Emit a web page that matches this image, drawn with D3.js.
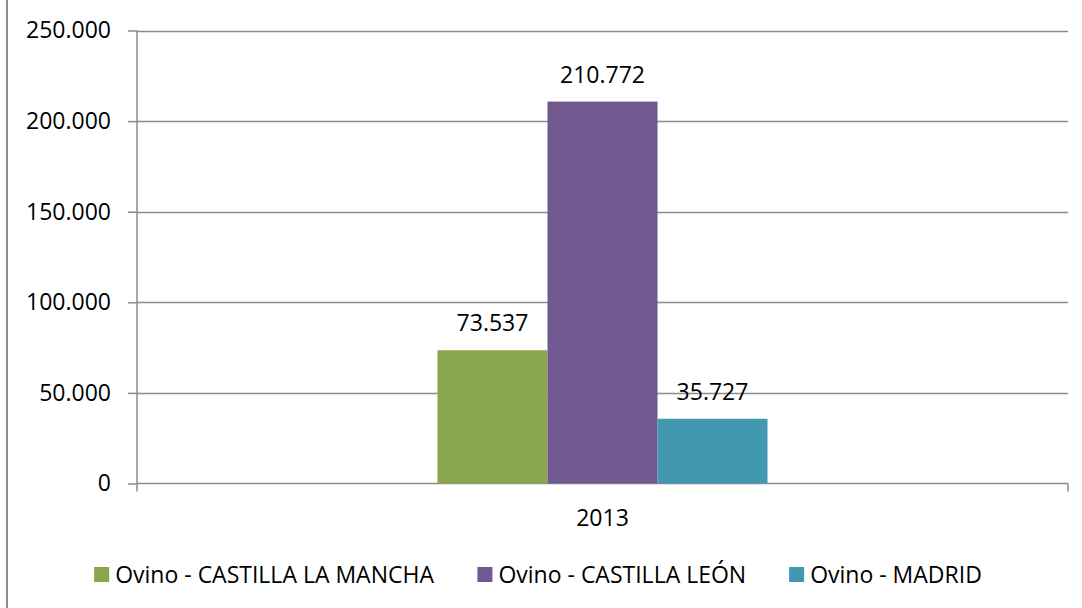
<!DOCTYPE html>
<html>
<head>
<meta charset="utf-8">
<script src="https://cdn.jsdelivr.net/npm/d3@7"></script>
<style>
  html, body { margin: 0; padding: 0; background: #fff; }
  svg { display: block; }
  text { font-family: "Open Sans", "Liberation Sans", sans-serif; fill: #000; }
</style>
</head>
<body>
<svg id="chart" width="1082" height="608"></svg>
<script>
// Ovino head count by region, 2013
const categories = ["2013"];
const seriesNames = ["Ovino - CASTILLA LA MANCHA", "Ovino - CASTILLA LEÓN", "Ovino - MADRID"];
const seriesValues = [73537, 210772, 35727];
const seriesColors = ["#8aa64d", "#71588f", "#4298b0"];
const yTicks = [0, 50000, 100000, 150000, 200000, 250000];

const svg = d3.select("#chart");
const W = 1082, H = 608;
const fontSize = 23;

// outer chart frame edge
svg.append("line")
  .attr("x1", 7).attr("x2", 7).attr("y1", 0).attr("y2", H)
  .attr("stroke", "#8c8c8c").attr("stroke-width", 2);

const plot = { left: 137, right: 1068, top: 30.5, bottom: 483.5 };

const y = d3.scaleLinear().domain([0, 250000]).range([plot.bottom, plot.top]);
const x0 = d3.scaleBand().domain(categories).range([plot.left, plot.right]).paddingInner(0).paddingOuter(0);
const groupW = 330;
const x1 = d3.scaleBand().domain(seriesNames).range([0, groupW]).padding(0);

const fmt = v => d3.format(",")(v).replace(/,/g, ".");

// horizontal gridlines
svg.append("g").selectAll("line").data(yTicks.filter(t => t > 0)).join("line")
  .attr("x1", plot.left).attr("x2", plot.right)
  .attr("y1", d => Math.round(y(d)) + 0.5).attr("y2", d => Math.round(y(d)) + 0.5)
  .attr("stroke", "#8c8c8c").attr("stroke-width", 1.5);

// y axis
const yAxis = d3.axisLeft(y).tickValues(yTicks).tickSize(9).tickPadding(17)
  .tickFormat(d => d === 0 ? "0" : fmt(d));
const gy = svg.append("g").attr("transform", `translate(${plot.left},0)`).call(yAxis);
gy.select(".domain").remove();
gy.selectAll(".tick line").attr("stroke", "#8c8c8c").attr("stroke-width", 1.5);
gy.selectAll(".tick text").attr("font-size", fontSize)
  .attr("font-family", "'Open Sans', 'Liberation Sans', sans-serif").attr("fill", "#000");
gy.append("line").attr("x1", 0).attr("x2", 0).attr("y1", plot.top).attr("y2", plot.bottom + 8)
  .attr("stroke", "#8c8c8c").attr("stroke-width", 1.5);

// x axis
const xAxis = d3.axisBottom(x0).tickSize(0).tickPadding(26);
const gx = svg.append("g").attr("transform", `translate(0,${plot.bottom})`).call(xAxis);
gx.select(".domain").remove();
gx.selectAll(".tick text").attr("font-size", fontSize)
  .attr("font-family", "'Open Sans', 'Liberation Sans', sans-serif").attr("fill", "#000");
gx.append("line").attr("x1", plot.left).attr("x2", plot.right).attr("y1", 0).attr("y2", 0)
  .attr("stroke", "#8c8c8c").attr("stroke-width", 1.5);
gx.append("line").attr("x1", plot.right).attr("x2", plot.right).attr("y1", 0).attr("y2", 8)
  .attr("stroke", "#8c8c8c").attr("stroke-width", 1.5);

// bars
const group = svg.append("g")
  .attr("transform", `translate(${x0(categories[0]) + (x0.bandwidth() - groupW) / 2},0)`);
const data = seriesNames.map((n, i) => ({ name: n, value: seriesValues[i], color: seriesColors[i] }));
group.selectAll("rect").data(data).join("rect")
  .attr("x", d => x1(d.name)).attr("width", x1.bandwidth())
  .attr("y", d => y(d.value)).attr("height", d => y(0) - y(d.value))
  .attr("fill", d => d.color);

// value labels
group.selectAll("text.val").data(data).join("text").attr("class", "val")
  .attr("x", d => x1(d.name) + x1.bandwidth() / 2)
  .attr("y", d => y(d.value) - 19)
  .attr("text-anchor", "middle").attr("font-size", fontSize)
  .text(d => fmt(d.value));

// legend
const legend = svg.append("g");
const items = legend.selectAll("g").data(data).join("g");
items.append("rect").attr("width", 15).attr("height", 15).attr("y", -8).attr("fill", d => d.color);
items.append("text").attr("x", 21).attr("dy", "0.35em").attr("font-size", fontSize).text(d => d.name);
let cx = 0;
items.each(function () {
  const w = this.getBBox().width;
  d3.select(this).attr("transform", `translate(${cx},0)`);
  cx += w + 43;
});
const legendW = cx - 43;
legend.attr("transform", `translate(${538 - legendW / 2},575)`);
</script>
</body>
</html>
